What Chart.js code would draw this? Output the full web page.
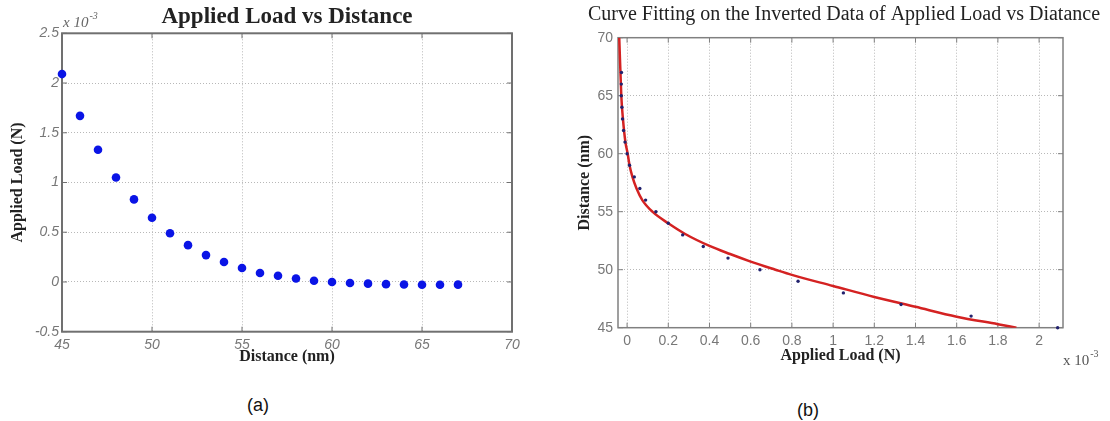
<!DOCTYPE html>
<html>
<head>
<meta charset="utf-8">
<script src="https://cdn.jsdelivr.net/npm/chart.js@4"></script>
<style>
  html, body { margin: 0; padding: 0; background: #fff; overflow: hidden; width: 1110px; height: 421px; }
  canvas { position: absolute; top: 0; }
  .cap { position: absolute; font: 18px "Liberation Sans", Arial, sans-serif; color: #111; transform: translate(-50%, -50%); }
</style>
</head>
<body>
<canvas id="chartA" width="574" height="380" style="left:0"></canvas>
<canvas id="chartB" width="548" height="380" style="left:570px"></canvas>
<div class="cap" style="left:258px;top:405px">(a)</div>
<div class="cap" style="left:808px;top:410px">(b)</div>
<script>
// measured points: distance (nm) and applied load (x 10^-3 N)
const distance = [45, 46, 47, 48, 49, 50, 51, 52, 53, 54, 55, 56, 57, 58, 59, 60, 61, 62, 63, 64, 65, 66, 67];
const load = [2.09, 1.67, 1.33, 1.05, 0.83, 0.645, 0.49, 0.37, 0.27, 0.2, 0.14, 0.09, 0.062, 0.035, 0.012, 0,
              -0.01, -0.017, -0.022, -0.025, -0.028, -0.028, -0.027];

// fitted curve (b)
const fitLoad = [-0.038, -0.028, -0.02, -0.008, 0.003, 0.012, 0.026, 0.046, 0.074, 0.123, 0.2, 0.28,
                 0.4, 0.5, 0.6, 0.72, 0.8, 1.0, 1.2, 1.4, 1.6, 1.8, 1.89];
const fitDist = [70, 65, 63, 61, 60, 59, 58, 57, 56, 55, 54.0, 53.1,
                 52.05, 51.35, 50.7, 50.0, 49.55, 48.6, 47.65, 46.8, 45.95, 45.3, 45.0];

const aXTicks = [45, 50, 55, 60, 65, 70];
const aYTicks = [-0.5, 0, 0.5, 1, 1.5, 2, 2.5];
const bXTicks = [0, 0.2, 0.4, 0.6, 0.8, 1, 1.2, 1.4, 1.6, 1.8, 2];
const bYTicks = [45, 50, 55, 60, 65, 70];

const serif = '"Liberation Serif", "Times New Roman", serif';
const sans = '"Liberation Sans", Arial, sans-serif';

// matlab-ish box, inward ticks and the x10^-3 exponent
const boxPlugin = {
  id: 'mbox',
  beforeDatasetsDraw(chart, args, opts) {
    const { ctx, chartArea: a } = chart;
    const xs = chart.scales.x, ys = chart.scales.y;
    ctx.save();
    ctx.strokeStyle = opts.color;
    ctx.lineWidth = opts.width;
    ctx.strokeRect(a.left, a.top, a.right - a.left, a.bottom - a.top);
    ctx.lineWidth = 1;
    ctx.beginPath();
    xs.ticks.forEach(t => {
      const px = xs.getPixelForValue(t.value);
      ctx.moveTo(px, a.bottom); ctx.lineTo(px, a.bottom - 5);
      ctx.moveTo(px, a.top); ctx.lineTo(px, a.top + 5);
    });
    ys.ticks.forEach(t => {
      const py = ys.getPixelForValue(t.value);
      ctx.moveTo(a.left, py); ctx.lineTo(a.left + 5, py);
      ctx.moveTo(a.right, py); ctx.lineTo(a.right - 5, py);
    });
    ctx.stroke();
    ctx.restore();
  },
  afterDraw(chart, args, opts) {
    const { ctx } = chart;
    const e = opts.exp;
    ctx.save();
    ctx.fillStyle = e.color;
    ctx.textBaseline = 'middle';
    ctx.font = e.style + ' 15px ' + serif;
    ctx.fillText('x 10', e.x, e.y);
    const w = ctx.measureText('x 10').width;
    ctx.font = e.style + ' 10px ' + serif;
    ctx.fillText('-3', e.x + w + 1, e.y - 7);
    ctx.restore();
  }
};

function fixedTicks(arr) {
  return scale => { scale.ticks = arr.map(v => ({ value: v })); };
}

// empty axis on the right, only to reserve room so the title centres like the original
function padAxis(width) {
  return {
    type: 'linear', position: 'right', display: true,
    grid: { display: false }, border: { display: false }, ticks: { display: false },
    afterFit: s => { s.width = width; }
  };
}

new Chart(document.getElementById('chartA'), {
  type: 'scatter',
  data: {
    datasets: [{
      data: distance.map((d, i) => ({ x: d, y: load[i] })),
      backgroundColor: '#0a14e6',
      borderWidth: 0,
      pointRadius: 4.3,
      clip: false
    }]
  },
  options: {
    responsive: false,
    animation: false,
    layout: { padding: 0 },
    plugins: {
      legend: { display: false },
      tooltip: { enabled: false },
      title: {
        display: true,
        text: 'Applied Load vs Distance',
        color: '#222',
        font: { family: serif, size: 23, weight: 'bold' },
        padding: { top: 3, bottom: 2.7 }
      },
      mbox: { color: '#707070', width: 2, exp: { x: 63, y: 23, color: '#666', style: 'italic' } }
    },
    scales: {
      x: {
        type: 'linear', min: 45, max: 70,
        afterBuildTicks: fixedTicks(aXTicks),
        afterFit: s => { s.height = 48.3; },
        grid: { color: '#b8b8b8', lineWidth: 1, drawTicks: false },
        border: { display: false, dash: [1, 2] },
        ticks: { color: '#777', padding: 5, font: { family: sans, size: 14, style: 'italic' }, callback: v => String(v) },
        title: { display: true, text: 'Distance (nm)', color: '#222', font: { family: serif, size: 16, weight: 'bold' }, padding: { top: 0, bottom: 13.4 } }
      },
      y: {
        type: 'linear', min: -0.5, max: 2.5,
        afterBuildTicks: fixedTicks(aYTicks),
        afterFit: s => { s.width = 62; },
        grid: { color: '#b8b8b8', lineWidth: 1, drawTicks: false },
        border: { display: false, dash: [1, 2] },
        ticks: { color: '#777', padding: 3, font: { family: sans, size: 14, style: 'italic' }, callback: v => String(v) },
        title: { display: true, text: 'Applied Load (N)', color: '#222', font: { family: serif, size: 16, weight: 'bold' }, padding: { top: 8.4, bottom: 0 } }
      },
      yPad: padAxis(62)
    }
  },
  plugins: [boxPlugin]
});

new Chart(document.getElementById('chartB'), {
  type: 'scatter',
  data: {
    datasets: [{
      data: distance.map((d, i) => ({ x: load[i], y: d })),
      backgroundColor: '#22226e',
      borderWidth: 0,
      pointRadius: 1.7,
      clip: false
    }, {
      data: fitLoad.map((v, i) => ({ x: v, y: fitDist[i] })),
      showLine: true,
      borderColor: '#d42222',
      borderWidth: 2.5,
      pointRadius: 0,
      cubicInterpolationMode: 'monotone'
    }]
  },
  options: {
    responsive: false,
    animation: false,
    layout: { padding: 0 },
    plugins: {
      legend: { display: false },
      tooltip: { enabled: false },
      title: {
        display: true,
        text: 'Curve Fitting on the Inverted Data of Applied Load vs Diatance',
        color: '#222',
        font: { family: serif, size: 20, weight: 'normal' },
        padding: { top: 3, bottom: 10.7 }
      },
      mbox: { color: '#808080', width: 1.5, exp: { x: 493, y: 361, color: '#555', style: 'normal' } }
    },
    scales: {
      x: {
        type: 'linear', min: -0.044, max: 2.116,
        afterBuildTicks: fixedTicks(bXTicks),
        afterFit: s => { s.height = 52.3; },
        grid: { color: '#b8b8b8', lineWidth: 1, drawTicks: false },
        border: { display: false, dash: [1, 2] },
        ticks: { color: '#777', padding: 5, font: { family: sans, size: 14 }, callback: v => String(v) },
        title: { display: true, text: 'Applied Load (N)', color: '#222', font: { family: serif, size: 16, weight: 'bold' }, padding: { top: 0, bottom: 14.4 } }
      },
      y: {
        type: 'linear', min: 45, max: 70,
        afterBuildTicks: fixedTicks(bYTicks),
        afterFit: s => { s.width = 48; },
        grid: { color: '#b8b8b8', lineWidth: 1, drawTicks: false },
        border: { display: false, dash: [1, 2] },
        ticks: { color: '#777', padding: 5, font: { family: sans, size: 14 }, callback: v => String(v) },
        title: { display: true, text: 'Distance (nm)', color: '#222', font: { family: serif, size: 16, weight: 'bold' }, padding: { top: 5.4, bottom: 0 } }
      },
      yPad: padAxis(55)
    }
  },
  plugins: [boxPlugin]
});
</script>
</body>
</html>
